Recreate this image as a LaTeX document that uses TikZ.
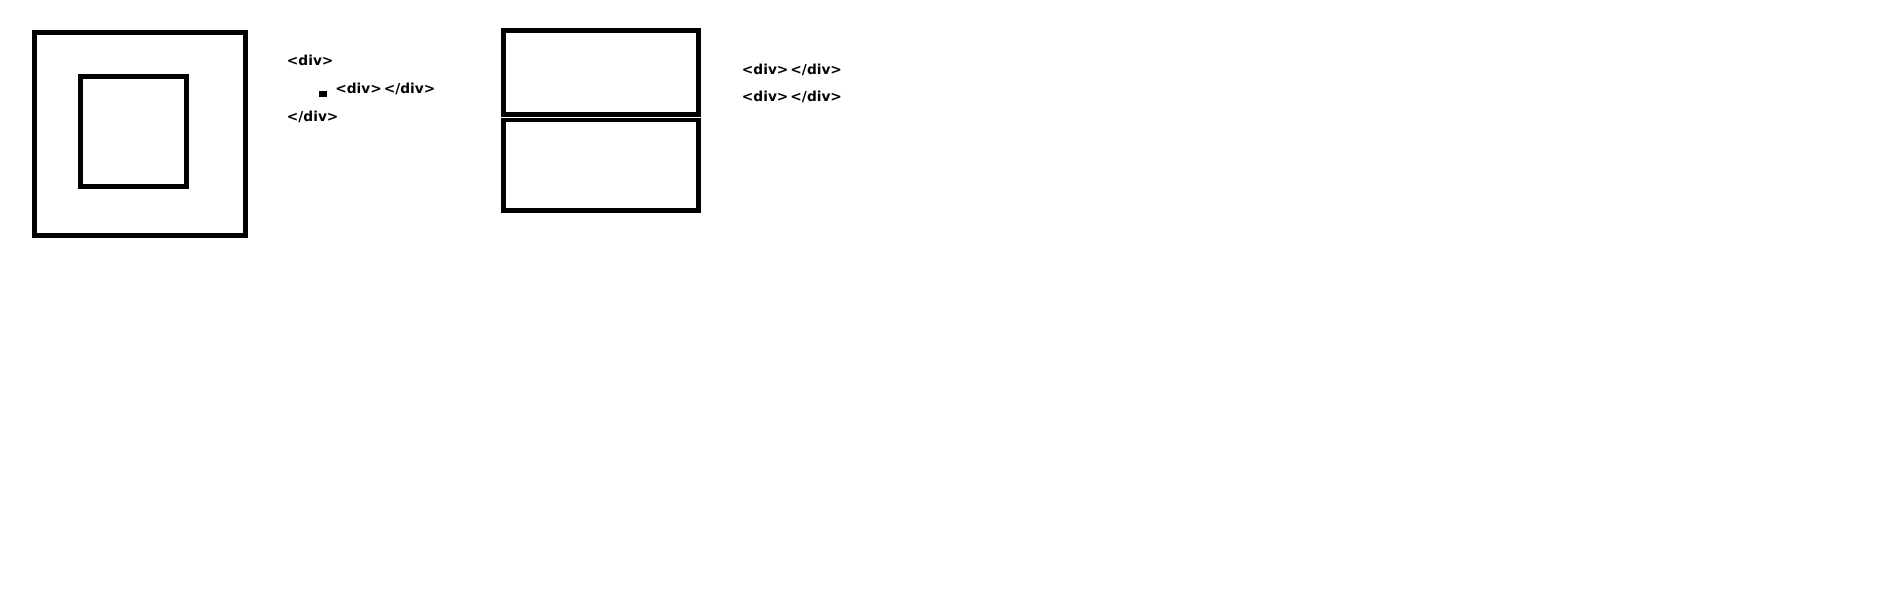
\documentclass[tikz,border=0pt]{standalone}
\usepackage{fontspec}
\setmainfont{DejaVu Sans}
\begin{document}
\begin{tikzpicture}[x=0.75pt,y=-0.75pt,
  boxline/.style={draw=black,line width=3.8pt,fill=none},
  code/.style={font=\bfseries\fontsize{10.3}{12}\selectfont,inner sep=0pt,anchor=base west,text=black}]
\useasboundingbox[fill=white] (0,0) rectangle (1904,594);
% left nested boxes
\draw[boxline] (34.5,32.5) rectangle (245.2,235.2);
\draw[boxline] (80.5,76.5) rectangle (186.2,186.8);
\node[code] (l1) at (286.7,65.8) {<div>};
\fill (319,91) rectangle (326.7,96.5);
\node[code] (l2) at (335,93.5) {<div>\kern1.5pt</div>};
\node[code] (l3) at (286.7,121) {</div>};
% right stacked boxes
\draw[boxline,line width=3.5pt] (503.3,30.3) rectangle (698.7,114.3);
\draw[boxline,line width=3.5pt] (503.3,120) rectangle (698.7,210.3);
\node[code] (r1) at (741.7,74.2) {<div>\kern1.5pt</div>};
\node[code] (r2) at (741.7,101.8) {<div>\kern1.5pt</div>};
\end{tikzpicture}
\end{document}
